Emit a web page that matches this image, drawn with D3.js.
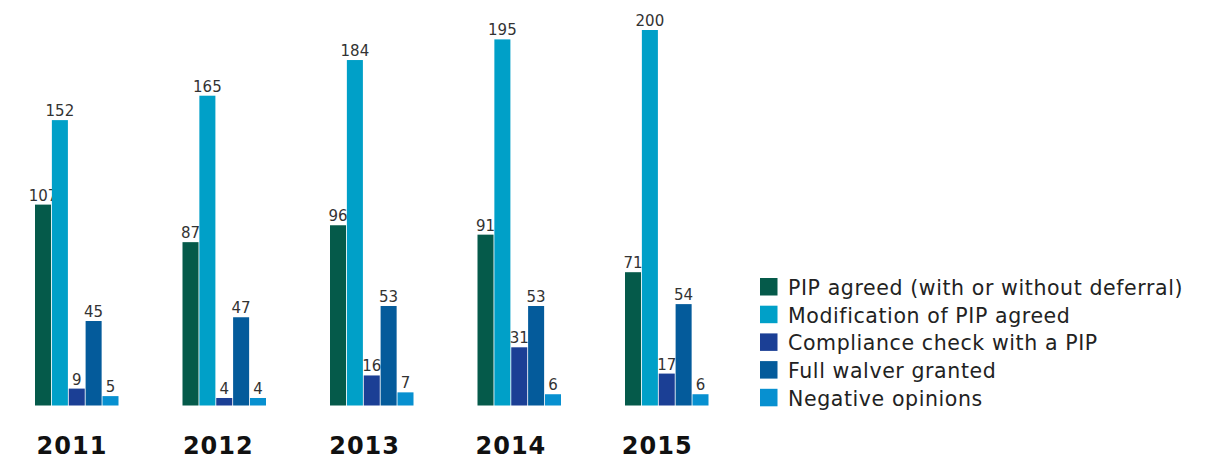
<!DOCTYPE html>
<html><head><meta charset="utf-8">
<script src="https://cdn.jsdelivr.net/npm/d3@7"></script>
<style>body{margin:0;background:#fff}svg{display:block}</style>
</head><body>
<script>
const years = ["2011","2012","2013","2014","2015"];
const series = ["PIP agreed (with or without deferral)","Modification of PIP agreed","Compliance check with a PIP","Full walver granted","Negative opinions"];
const colors = ["#055a4a","#00a0c8","#1b3f95","#045b9b","#0790d0"];
const pipAgreed = [107,87,96,91,71];
const modification = [152,165,184,195,200];
const compliance = [9,4,16,31,17];
const fullWaiver = [45,47,53,53,54];
const negative = [5,4,7,6,6];
const values = [pipAgreed, modification, compliance, fullWaiver, negative];

const W = 1211, H = 460;
const svg = d3.select("body").append("svg").attr("width", W).attr("height", H);
const FF = "Verdana, DejaVu Sans, sans-serif";

const x0 = d3.scaleBand().domain(years).range([35, 35 + 147.5*5]).paddingInner(0).paddingOuter(0);
const x1 = d3.scaleBand().domain(series).range([0, 83.5]).paddingInner(0.05);
const y = d3.scaleLinear().domain([0, 200]).range([405.5, 30]);

const g = svg.append("g");
years.forEach((yr, i) => {
  const gg = g.append("g").attr("transform", `translate(${x0(yr)},0)`);
  series.forEach((s, j) => {
    const v = values[j][i];
    gg.append("rect").attr("x", x1(s)).attr("y", y(v)).attr("width", x1.bandwidth())
      .attr("height", y(0) - y(v)).attr("fill", colors[j]);
    gg.append("text").attr("x", x1(s) + x1.bandwidth()/2).attr("y", y(v) - 4)
      .attr("text-anchor", "middle").attr("font-family", FF)
      .attr("font-size", 15).attr("fill", "#333").text(v);
  });
  gg.append("text").attr("x", 37 - i*1.2).attr("y", 454).attr("text-anchor", "middle")
    .attr("font-family", FF).attr("font-weight", "bold").attr("letter-spacing", 1)
    .attr("font-size", 24).attr("fill", "#111").text(yr);
});

const leg = svg.append("g").attr("transform", "translate(760,278)");
series.forEach((s, j) => {
  const r = leg.append("g").attr("transform", `translate(0,${j*27.7})`);
  r.append("rect").attr("width", 17.5).attr("height", 17.5).attr("fill", colors[j]);
  r.append("text").attr("x", 28).attr("y", 17).attr("font-family", FF)
    .attr("font-size", 20.5).attr("letter-spacing", 0.6).attr("fill", "#222").text(s);
});
</script>
</body></html>
